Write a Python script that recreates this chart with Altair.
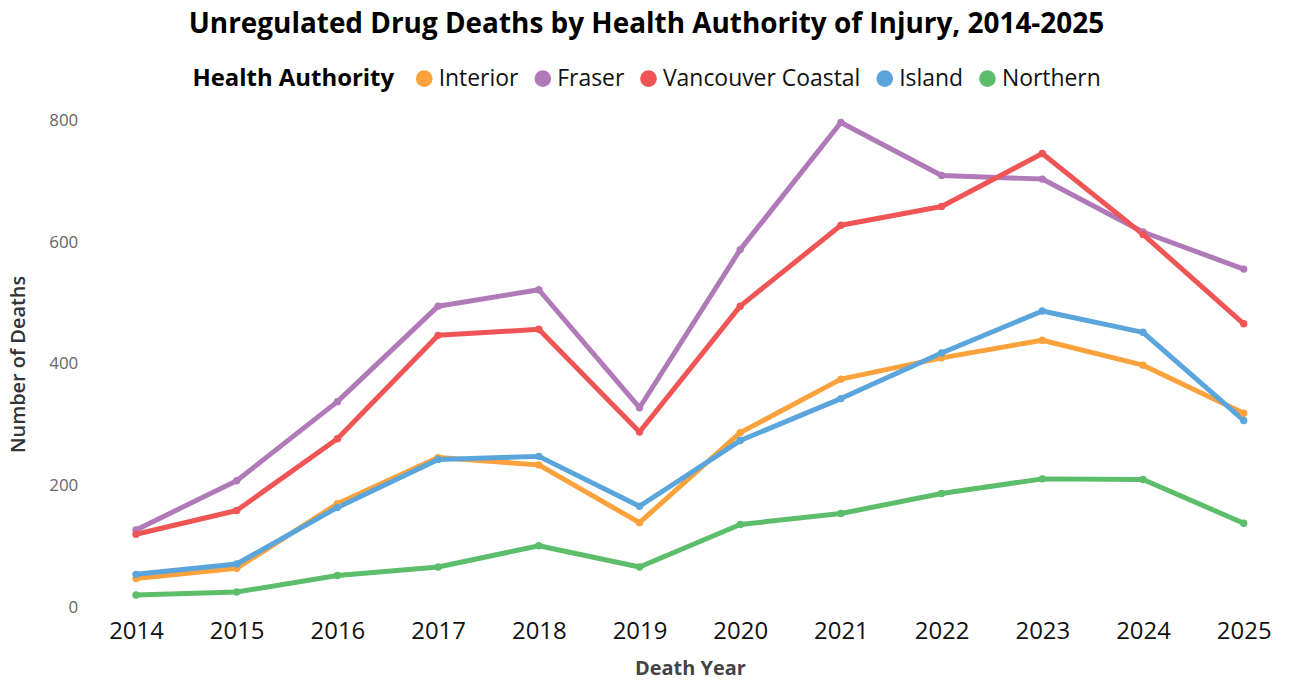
import altair as alt
import pandas as pd

years = [2014, 2015, 2016, 2017, 2018, 2019, 2020, 2021, 2022, 2023, 2024, 2025]
authorities = ["Interior", "Fraser", "Vancouver Coastal", "Island", "Northern"]
colors = ["#FBA23C", "#B07AB8", "#F05555", "#5AA5DC", "#5CBE6A"]

interior = [47, 64, 170, 246, 234, 139, 287, 375, 410, 439, 398, 319]
fraser = [127, 208, 338, 495, 522, 328, 588, 797, 710, 704, 617, 556]
vancouver_coastal = [120, 159, 277, 447, 457, 288, 495, 628, 659, 746, 613, 466]
island = [54, 71, 164, 243, 248, 166, 274, 343, 418, 487, 452, 307]
northern = [20, 25, 52, 66, 101, 66, 136, 154, 187, 211, 210, 138]

series = [interior, fraser, vancouver_coastal, island, northern]
rows = []
for i, (name, vals) in enumerate(zip(authorities, series)):
    for y, v in zip(years, vals):
        rows.append({"year": str(y), "deaths": v, "authority": name, "ord": i})
df = pd.DataFrame(rows)

FONT = "Segoe UI, Open Sans, sans-serif"

base = alt.Chart(df).encode(
    x=alt.X("year:O", title="Death Year",
            scale=alt.Scale(type="point", padding=0.4),
            axis=alt.Axis(labelAngle=0, domain=False, ticks=False, grid=False,
                          labelFontSize=24, labelColor="#111", labelPadding=12,
                          titleFontSize=20, titleFontWeight="bold", titleColor="#444",
                          titlePadding=16, labelFont=FONT, titleFont=FONT)),
    y=alt.Y("deaths:Q", title="Number of Deaths",
            scale=alt.Scale(domain=[0, 800]),
            axis=alt.Axis(values=[0, 200, 400, 600, 800], domain=False, ticks=False, grid=False,
                          labelFontSize=17, labelColor="#666", labelPadding=18,
                          titleFontSize=20, titleFontWeight=600, titleColor="#333",
                          titlePadding=20, labelFont=FONT, titleFont=FONT)),
    color=alt.Color("authority:N", sort=authorities,
                    scale=alt.Scale(domain=authorities, range=colors),
                    legend=alt.Legend(title="Health Authority", orient="none",
                                      direction="horizontal", titleOrient="left",
                                      legendX=97, legendY=-54,
                                      symbolType="circle", symbolSize=280,
                                      symbolStrokeWidth=0, symbolOpacity=1,
                                      labelFontSize=23, titleFontSize=24,
                                      titleFontWeight="bold", titleColor="#000",
                                      labelColor="#111", columnPadding=12,
                                      symbolOffset=0, labelOffset=3,
                                      labelLimit=0, titleLimit=0,
                                      titlePadding=18, labelFont=FONT, titleFont=FONT)),
    order=alt.Order("ord:Q"),
    detail="authority:N",
)

lines = base.mark_line(strokeWidth=5, interpolate="linear", strokeJoin="round", strokeCap="round")
points = base.mark_circle(size=55, opacity=1)

chart = (lines + points).properties(
    width=1192, height=488,
    title=alt.TitleParams("Unregulated Drug Deaths by Health Authority of Injury, 2014-2025",
                          fontSize=28, fontWeight="bold", color="#000", font=FONT,
                          anchor="middle", frame="bounds", offset=28),
    padding={"left": 0, "top": 2, "right": 0, "bottom": 0},
    background="white",
).configure_view(strokeWidth=0, stroke=None)

chart.save("out.html", embed_options={"renderer": "svg", "actions": False})
